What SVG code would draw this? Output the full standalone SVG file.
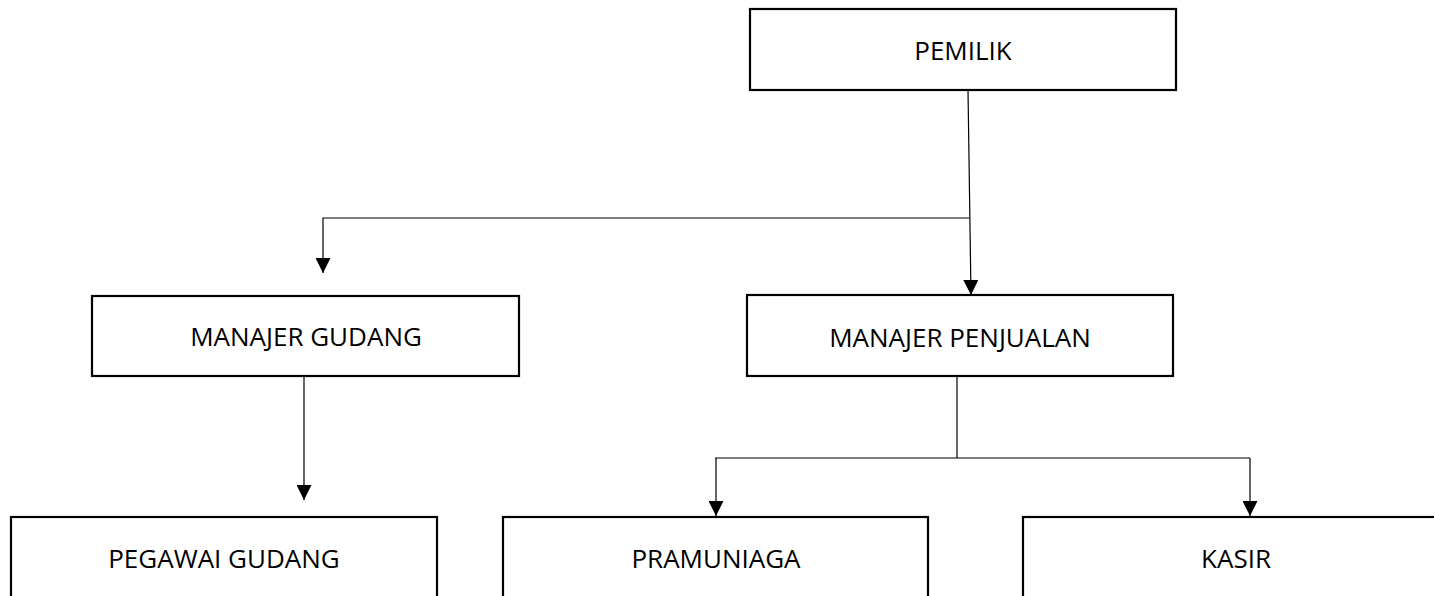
<svg xmlns="http://www.w3.org/2000/svg" width="1434" height="596" viewBox="0 0 1434 596">
<style>
.box{fill:#fff;stroke:#000;stroke-width:2.2}
.lbl{font-family:"Open Sans","Liberation Sans",sans-serif;font-size:26px;fill:#000;text-anchor:middle}
.conn{stroke:#000;stroke-width:1.2;fill:none}
</style>
<defs>
<marker id="arr" viewBox="0 0 15 15" refX="15" refY="7.5" markerWidth="15" markerHeight="15" markerUnits="userSpaceOnUse" orient="auto">
<path d="M0,0 L15,7.5 L0,15 z" fill="#000"/>
</marker>
</defs>
<rect width="1434" height="596" fill="#fff"/>
<g id="connectors">
<line class="conn" x1="968" y1="90" x2="971" y2="295" marker-end="url(#arr)"/>
<polyline class="conn" points="969.5,218 323,218 323,273" marker-end="url(#arr)"/>
<line class="conn" x1="304" y1="376" x2="304" y2="500" marker-end="url(#arr)"/>
<line class="conn" x1="957" y1="376" x2="957" y2="458"/>
<line class="conn" x1="715" y1="458" x2="1250" y2="458"/>
<line class="conn" x1="716" y1="458" x2="716" y2="516" marker-end="url(#arr)"/>
<line class="conn" x1="1250" y1="458" x2="1250" y2="516" marker-end="url(#arr)"/>
</g>
<g id="pemilik">
<rect class="box" x="750" y="9" width="426" height="81"/>
<text class="lbl" x="963" y="60">PEMILIK</text>
</g>
<g id="manajer-gudang">
<rect class="box" x="92" y="296" width="427" height="80"/>
<text class="lbl" x="306" y="346">MANAJER GUDANG</text>
</g>
<g id="manajer-penjualan">
<rect class="box" x="747" y="295" width="426" height="81"/>
<text class="lbl" x="960" y="347">MANAJER PENJUALAN</text>
</g>
<g id="pegawai-gudang">
<rect class="box" x="11" y="517" width="426" height="100"/>
<text class="lbl" x="224" y="568">PEGAWAI GUDANG</text>
</g>
<g id="pramuniaga">
<rect class="box" x="503" y="517" width="425" height="100"/>
<text class="lbl" x="716" y="568">PRAMUNIAGA</text>
</g>
<g id="kasir">
<rect class="box" x="1023" y="517" width="425" height="100"/>
<text class="lbl" x="1236" y="568">KASIR</text>
</g>
</svg>
